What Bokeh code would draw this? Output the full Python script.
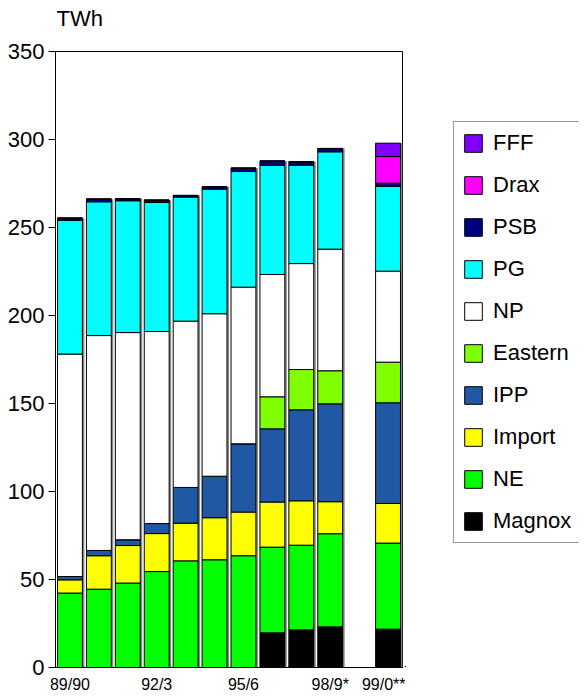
from bokeh.plotting import figure
from bokeh.models import ColumnDataSource, Range1d, FixedTicker, Legend, LegendItem, Label
from bokeh.layouts import row, column
from bokeh.transform import dodge
from bokeh.embed import file_html
from bokeh.resources import INLINE

categories = ["89/90", "90/1", "91/2", "92/3", "93/4", "94/5", "95/6",
              "96/7", "97/8", "98/9*", "", "99/0**"]
tick_labels = ["89/90", "92/3", "95/6", "98/9*", "99/0**"]

series = ["Magnox", "NE", "Import", "IPP", "Eastern", "NP", "PG", "PSB", "Drax", "FFF"]
Magnox  = [0, 0, 0, 0, 0, 0, 0, 19.7, 21.4, 23.1, 0, 21.8]
NE      = [42.3, 44.5, 48.0, 54.5, 60.6, 61.2, 63.5, 48.7, 48.1, 52.9, 0, 48.9]
Import  = [7.5, 19.0, 21.3, 21.6, 21.4, 23.9, 24.8, 25.6, 25.2, 18.2, 0, 22.5]
IPP     = [1.9, 3.0, 3.3, 5.7, 20.3, 23.6, 38.8, 41.6, 51.7, 55.6, 0, 57.2]
Eastern = [0, 0, 0, 0, 0, 0, 0, 18.2, 22.9, 18.8, 0, 23.1]
NP      = [126.4, 122.1, 117.7, 109.1, 94.5, 92.3, 89.0, 69.5, 60.2, 69.1, 0, 51.7]
PG      = [75.9, 76.0, 74.9, 73.3, 70.5, 70.8, 65.7, 62.1, 55.9, 55.3, 0, 48.1]
PSB     = [1.3, 1.5, 1.1, 1.3, 0.9, 1.3, 1.9, 2.3, 1.9, 1.9, 0, 1.9]
Drax    = [0, 0, 0, 0, 0, 0, 0, 0, 0, 0, 0, 15.1]
FFF     = [0, 0, 0, 0, 0, 0, 0, 0, 0, 0, 0, 7.6]

colors = ["#000000", "#00ff00", "#ffff00", "#2058a4", "#80ff00",
          "#ffffff", "#00ffff", "#000080", "#ff00ff", "#8000ff"]

values = dict(Magnox=Magnox, NE=NE, Import=Import, IPP=IPP, Eastern=Eastern,
              NP=NP, PG=PG, PSB=PSB, Drax=Drax, FFF=FFF)

keep = [i for i, c in enumerate(categories) if c != ""]
data = {"x": keep}
for s in series:
    data[s] = [values[s][i] for i in keep]
data["total"] = [sum(values[s][i] for s in series) for i in keep]
src = ColumnDataSource(data)

FONT = "Liberation Sans"
HDR = 30
H = 664

# header with unit label
hdr = figure(width=579, height=HDR, output_backend="svg", toolbar_location=None,
             x_range=Range1d(0, 1), y_range=Range1d(0, 1),
             x_axis_location=None, y_axis_location=None, min_border=0)
hdr.outline_line_color = None
hdr.grid.visible = False
hdr.add_layout(Label(x=56, y=HDR - 17.5, x_units="screen", y_units="screen",
                     text="TWh", text_font=FONT, text_font_size="22px",
                     text_color="black", text_align="left", text_baseline="middle"))

p = figure(frame_width=347, frame_height=616, output_backend="svg", toolbar_location=None,
           x_range=Range1d(-0.5, len(categories) - 0.5), y_range=Range1d(0, 350),
           min_border_left=55, min_border_top=21, min_border_bottom=27,
           min_border_right=3)

p.xgrid.visible = False
p.ygrid.visible = False
p.outline_line_color = "black"
p.outline_line_width = 1

# shadow
p.vbar(x=dodge("x", 0.07), top="total", width=0.86, source=src,
       fill_color="#888888", line_color=None)

rs = p.vbar_stack(series, x="x", width=0.86, color=colors, line_color="black",
                  line_width=1, source=src)

for ax in (p.xaxis, p.yaxis):
    ax.axis_line_color = "black"
    ax.major_tick_line_color = "black"
    ax.minor_tick_line_color = None
    ax.major_label_text_color = "black"
    ax.major_label_text_font = FONT

p.yaxis.ticker = FixedTicker(ticks=list(range(0, 351, 50)))
p.yaxis.major_tick_out = 7
p.yaxis.major_tick_in = 0
p.yaxis.major_label_standoff = 4
p.yaxis.major_label_text_font_size = "22px"

ticks = [categories.index(t) for t in tick_labels]
p.xaxis.ticker = FixedTicker(ticks=ticks)
p.xaxis.major_label_overrides = {categories.index(t): t for t in tick_labels}
p.xaxis.major_tick_out = 0
p.xaxis.major_tick_in = 0
p.xaxis.major_label_standoff = 8
p.xaxis.major_label_text_font_size = "16px"

# legend panel
lg = figure(width=174, height=H, output_backend="svg", toolbar_location=None,
            x_range=Range1d(1000, 1001), y_range=Range1d(5000, 5001),
            x_axis_location=None, y_axis_location=None, min_border=0)
lg.outline_line_color = None
lg.grid.visible = False
lrs = lg.vbar_stack(series, x="x", width=0.86, color=colors, line_color="black",
                    line_width=1, source=src)
items = [LegendItem(label=s, renderers=[r]) for s, r in reversed(list(zip(series, lrs)))]
legend = Legend(items=items, location=(48, 123), margin=0, padding=8,
                glyph_width=22, glyph_height=22, label_height=22,
                label_standoff=9, spacing=16,
                label_text_font=FONT, label_text_font_size="22px",
                label_text_color="black",
                border_line_color="#333333", border_line_width=1,
                background_fill_color="white")
lg.add_layout(legend, "center")

layout = column(hdr, row(p, lg))
open("out.html", "w").write(file_html(layout, INLINE))
